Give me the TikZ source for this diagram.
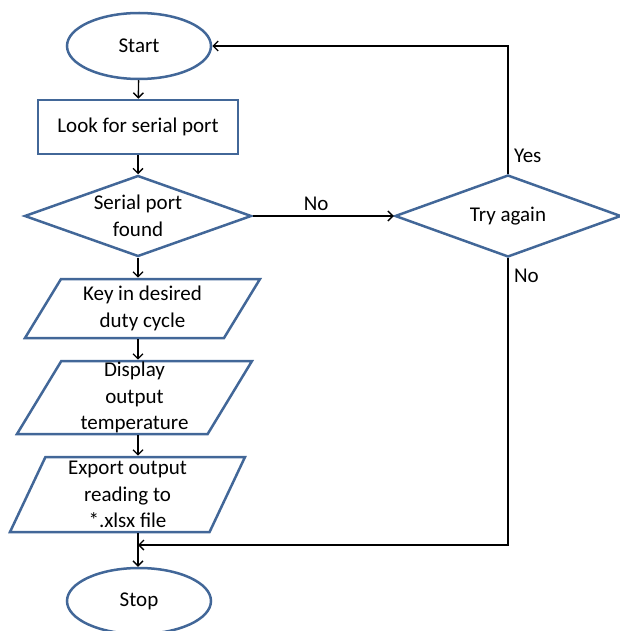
\documentclass[tikz,border=0pt]{standalone}
\usepackage{fontspec}
\setmainfont{Carlito}
\usetikzlibrary{shapes.geometric,arrows.meta}
\definecolor{boxblue}{RGB}{66,103,152}
\begin{document}
\begin{tikzpicture}[x=1pt,y=-1pt,
		font=\fontsize{21}{26.5}\selectfont,
		blk/.style={draw=boxblue,line width=2.5pt,inner sep=0pt,align=center},
		term/.style={blk,ellipse,minimum width=144pt,minimum height=66pt},
		proc/.style={blk,rectangle,minimum width=200pt,minimum height=54pt},
		dec/.style={blk,diamond,shape aspect=2.8,minimum width=227pt,minimum height=81pt},
		io/.style={blk,trapezium,trapezium stretches body,minimum width=235pt},
		flow/.style={line width=1.4pt,-{Straight Barb[length=5pt,width=10pt]}}]
			\useasboundingbox (0,0) rectangle (620,631);
			\node[term] (ST) at (139,46) {Start};
			\node[proc] (LP) at (138,127) {Look for serial port};
			\node[dec] (SF) at (138,216) {Serial port\\found};
			\node[io,trapezium left angle=51,trapezium right angle=129,minimum height=59pt] (KD) at (142.5,308.5) {Key in desired\\duty cycle};
			\node[io,trapezium left angle=58,trapezium right angle=122,minimum height=73pt] (DT) at (134.5,397.5) {Display\\output\\temperature};
			\node[io,trapezium left angle=62,trapezium right angle=118,minimum height=75pt] (EX) at (127.5,494.5) {Export output\\reading to\\*.xlsx file};
			\node[term] (SP) at (139,601) {Stop};
			\node[dec,minimum width=226pt,minimum height=82pt] (TA) at (508,216) {Try again};
			\coordinate (JN) at (138,545);
			
			\draw[flow] (ST)--(LP);
			\draw[flow] (LP)--(SF);
			\draw[flow] (SF.south)--(SF.south |- KD.north);
			\draw[flow] (KD.south -| LP.south)--(DT.north -| LP.south);
			\draw[flow] (DT.south -| LP.south)--(EX.north -| LP.south);
			\draw[flow] (EX.south -| LP.south)--(SP.north -| LP.south);
			\draw[flow] (SF.east)-- node[above,pos=.45,yshift=1pt] {No} (TA.west);
			\draw[flow] (TA.north)-- node[right,pos=.14,xshift=2pt] {Yes} (TA.north |- ST.east)--(ST.east);
			\draw[flow] (TA.south)-- node[right,pos=.06,xshift=2pt] {No} (TA.south |- JN)--(JN);
\end{tikzpicture}
\end{document}
